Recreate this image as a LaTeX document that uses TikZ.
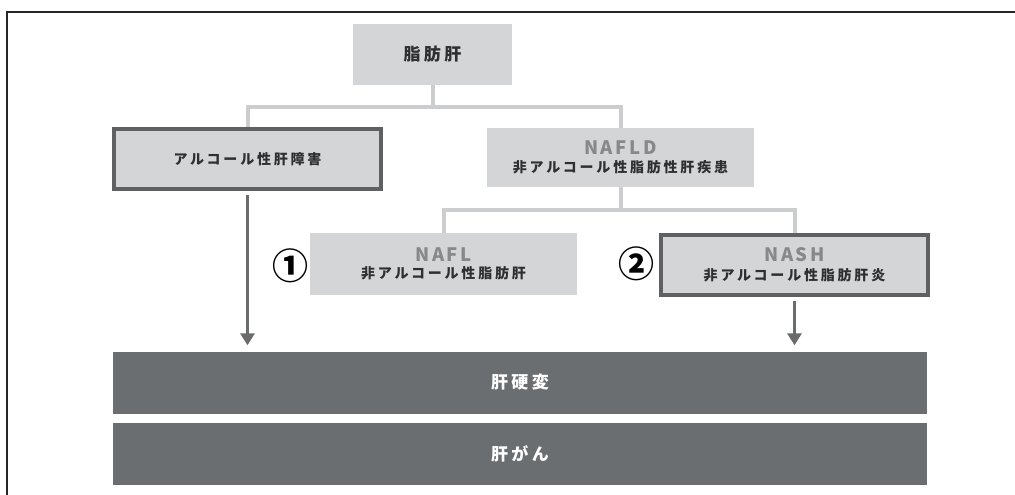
\documentclass[tikz,border=0pt]{standalone}
\usepackage{fontspec}
\setmainfont{Noto Sans CJK JP}
\newfontfamily\jp[LetterSpace=20]{Noto Sans CJK JP}
\newfontfamily\jpn{Noto Sans CJK JP}
\newfontfamily\lat[LetterSpace=14]{Noto Sans CJK JP}
\usetikzlibrary{arrows.meta}
\definecolor{boxgray}{HTML}{D3D5D7}
\definecolor{linegray}{HTML}{CBCDCF}
\definecolor{bordergray}{HTML}{5E6062}
\definecolor{bargray}{HTML}{6B6E71}
\definecolor{arrgray}{HTML}{696B6D}
\definecolor{txtdark}{HTML}{2E2F30}
\definecolor{latgray}{HTML}{86888B}
\tikzset{
  lbox/.style={fill=boxgray, draw=none, inner sep=0pt, align=center, text=txtdark},
  tbox/.style={lbox, draw=bordergray, line width=4pt},
  bar/.style={fill=bargray, draw=none, inner sep=0pt, text=white, minimum width=814pt, minimum height=62pt},
  conn/.style={draw=linegray, line width=4pt},
  arr/.style={draw=arrgray, line width=3.5pt, -{Triangle[length=12pt,width=14pt]}},
  num/.style={inner sep=0pt, text=black, font=\jpn\fontsize{36}{36}\selectfont\bfseries}
}
\newcommand{\latlab}[1]{{\lat\fontsize{18.5}{19}\selectfont\bfseries\color{latgray}#1}}
\newcommand{\jplab}[1]{{\jp\fontsize{14}{15}\selectfont\bfseries #1}}
\begin{document}
\begin{tikzpicture}[x=1pt,y=-1pt]
\useasboundingbox (0,0) rectangle (1015,495);
\fill[white] (0,0) rectangle (1015,495);
% frame
\draw[line width=1.6pt, black!85] (1016,12) -- (6.8,12) -- (6.8,496);

% boxes
\node[lbox, minimum width=159pt, minimum height=61pt] (fat) at (432.5,54.5)
  {\jp\fontsize{17}{18}\selectfont\bfseries 脂肪肝};
\node[tbox, minimum width=267pt, minimum height=60pt] (alc) at (247.5,159)
  {\jplab{アルコール性肝障害}};
\node[lbox, minimum width=267pt, minimum height=59pt] (nafld) at (620.5,157.5)
  {\latlab{NAFLD}\\[6pt]\jplab{非アルコール性脂肪性肝疾患}};
\node[lbox, minimum width=267pt, minimum height=62pt] (nafl) at (443.5,264)
  {\latlab{NAFL}\\[5pt]\jplab{非アルコール性脂肪肝}};
\node[tbox, minimum width=267pt, minimum height=60pt] (nash) at (794.5,265)
  {\latlab{NASH}\\[6pt]\jplab{非アルコール性脂肪肝炎}};

\node[num] (n1) at (290,266) {①};
\node[num] (n2) at (636,264) {②};

\node[bar] (cir) at (520,382.5) {\jp\fontsize{17}{18}\selectfont\bfseries 肝硬変};
\node[bar] (can) at (520,454) {\jp\fontsize{17}{18}\selectfont\bfseries 肝がん};

% tree connectors
\coordinate (j1) at (432.5,107);
\coordinate (j2) at (620.5,210);
\draw[conn] (fat.south) -- (j1);
\draw[conn] (alc.north) |- (j1) -| (nafld.north);
\draw[conn] (nafld.south) -- (j2);
\draw[conn] (nafl.north) |- (j2) -| (nash.north);

% arrows
\draw[arr, shorten <=4pt, shorten >=6pt] (alc.south) -- (alc.south |- cir.north);
\draw[arr, shorten <=4pt, shorten >=6pt] (nash.south) -- (nash.south |- cir.north);
\end{tikzpicture}
\end{document}
